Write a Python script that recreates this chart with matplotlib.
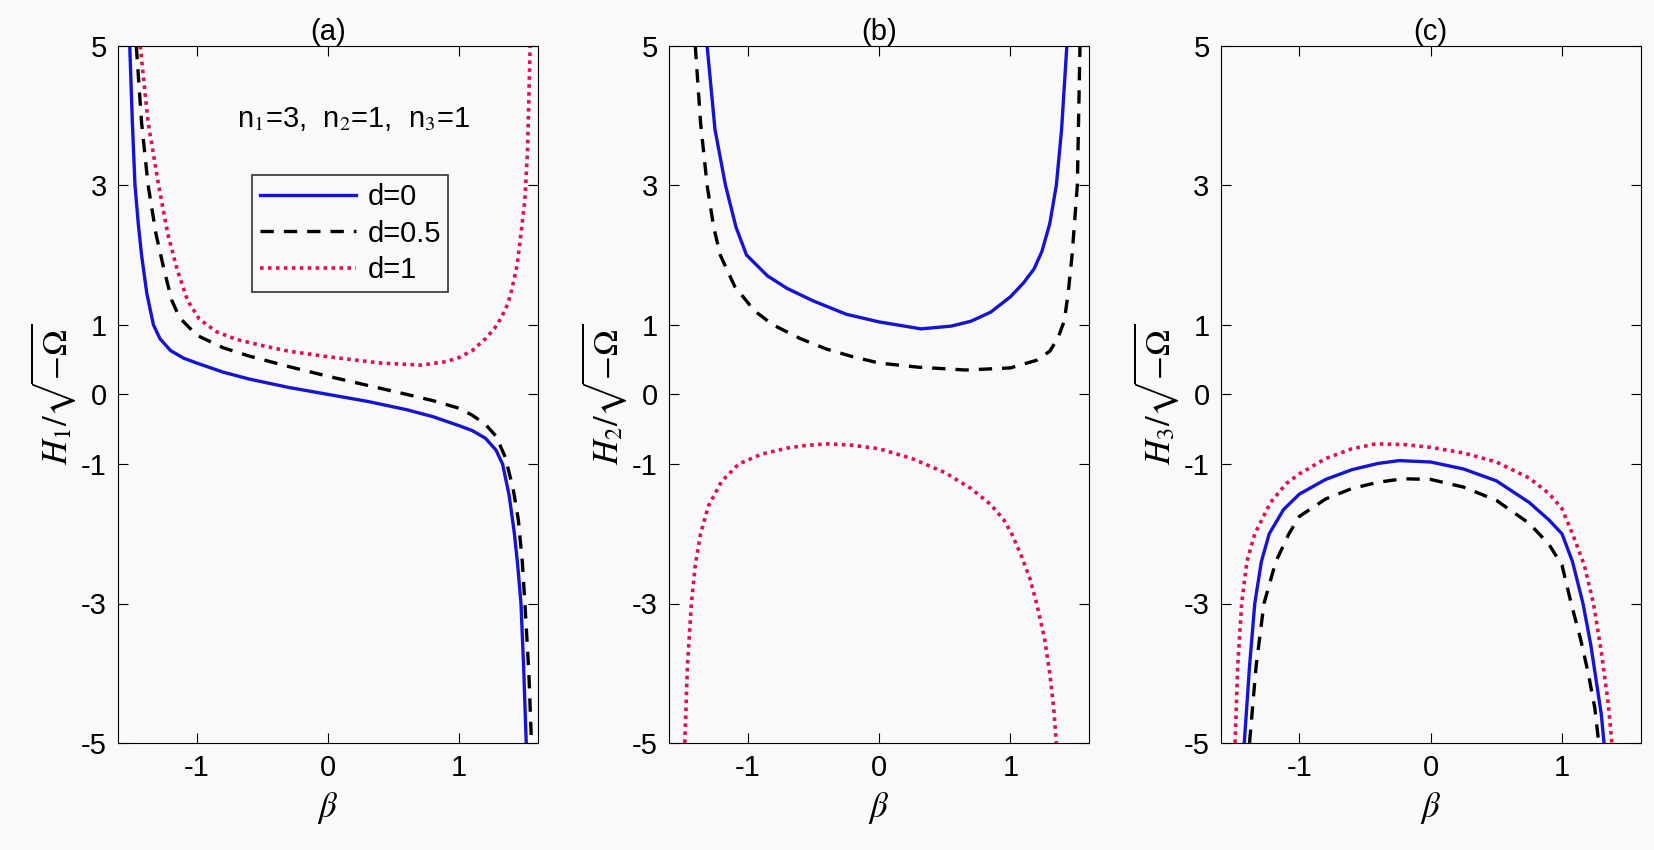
import numpy as np
import matplotlib
matplotlib.use("Agg")
from matplotlib import pyplot as plt

plt.rcParams['font.family'] = ['Liberation Sans', 'DejaVu Sans']
plt.rcParams['mathtext.fontset'] = 'stix'
plt.rcParams['axes.unicode_minus'] = False

# panel (a): H1
a_d0_x = [-1.51, -1.49, -1.47, -1.445, -1.42, -1.38, -1.33, -1.28, -1.2, -1.1, -1.0, -0.8, -0.6, -0.3, 0,
          0.3, 0.6, 0.8, 1.0, 1.1, 1.2, 1.28, 1.33, 1.38, 1.42, 1.445, 1.47, 1.49, 1.51]
a_d0_y = [5, 3.9, 3, 2.45, 2, 1.45, 1, 0.8, 0.63, 0.52, 0.45, 0.32, 0.22, 0.1, 0,
          -0.1, -0.22, -0.32, -0.45, -0.52, -0.63, -0.8, -1, -1.45, -2, -2.45, -3, -3.9, -5]
a_d05_x = [-1.46, -1.42, -1.37, -1.31, -1.25, -1.19, -1.13, -1.0, -0.8, -0.6, -0.3, 0, 0.3, 0.6, 0.8,
           1.0, 1.1, 1.2, 1.28, 1.35, 1.41, 1.45, 1.48, 1.5, 1.53, 1.55]
a_d05_y = [5, 3.9, 3, 2.3, 1.8, 1.35, 1.1, 0.85, 0.67, 0.55, 0.4, 0.26, 0.13, 0.0, -0.09,
           -0.2, -0.3, -0.43, -0.6, -0.9, -1.35, -1.8, -2.4, -3, -4, -5]
a_d1_x = [-1.43, -1.37, -1.29, -1.22, -1.15, -1.07, -0.98, -0.85, -0.7, -0.5, -0.3, 0, 0.4, 0.71,
          0.9, 1.0, 1.1, 1.2, 1.27, 1.32, 1.37, 1.40, 1.44, 1.47, 1.5, 1.52, 1.54]
a_d1_y = [5, 3.9, 3, 2.3, 1.8, 1.35, 1.08, 0.9, 0.79, 0.7, 0.62, 0.54, 0.45, 0.42,
          0.47, 0.53, 0.63, 0.8, 0.95, 1.1, 1.3, 1.5, 1.85, 2.3, 2.8, 3.5, 5]

# panel (b): H2
b_d0_x = [-1.31, -1.25, -1.17, -1.09, -1.01, -0.85, -0.7, -0.5, -0.25, 0, 0.32, 0.55, 0.7, 0.85, 1.0,
          1.1, 1.18, 1.24, 1.3, 1.35, 1.39, 1.43]
b_d0_y = [5, 3.8, 3, 2.4, 2, 1.7, 1.52, 1.34, 1.15, 1.04, 0.94, 0.98, 1.05, 1.18, 1.4,
          1.6, 1.8, 2.05, 2.45, 3, 3.8, 5]
b_d05_x = [-1.40, -1.36, -1.31, -1.26, -1.21, -1.1, -0.95, -0.81, -0.6, -0.4, -0.2, 0, 0.3, 0.66,
           1.0, 1.2, 1.3, 1.36, 1.41, 1.44, 1.47, 1.49, 1.51, 1.53]
b_d05_y = [5, 3.9, 3, 2.4, 2, 1.55, 1.2, 1.0, 0.8, 0.65, 0.54, 0.45, 0.39, 0.35,
           0.38, 0.49, 0.62, 0.8, 1.05, 1.45, 2, 2.5, 3, 5]
b_d1_x = [-1.48, -1.46, -1.43, -1.4, -1.36, -1.3, -1.2, -1.07, -0.9, -0.7, -0.55, -0.39, -0.2, 0,
          0.25, 0.5, 0.7, 0.85, 0.95, 1.01, 1.08, 1.15, 1.2, 1.26, 1.3, 1.33, 1.35]
b_d1_y = [-5, -3.9, -3, -2.45, -2, -1.6, -1.25, -1.0, -0.86, -0.77, -0.73, -0.71, -0.73, -0.78,
          -0.92, -1.12, -1.35, -1.58, -1.8, -2, -2.3, -2.65, -3, -3.5, -4, -4.5, -5]

# panel (c): H3
c_d0_x = [-1.42, -1.38, -1.34, -1.29, -1.23, -1.12, -1.0, -0.8, -0.6, -0.4, -0.24, 0, 0.25, 0.5,
          0.75, 0.9, 1.0, 1.08, 1.16, 1.22, 1.26, 1.3, 1.32]
c_d0_y = [-5, -3.9, -3, -2.4, -2, -1.65, -1.43, -1.22, -1.08, -0.99, -0.95, -0.97, -1.07, -1.24,
          -1.55, -1.8, -2.0, -2.4, -3, -3.6, -4.1, -4.6, -5]
c_d05_x = [-1.38, -1.33, -1.27, -1.18, -1.08, -1.0, -0.8, -0.6, -0.4, -0.21, 0, 0.25, 0.5, 0.75,
           0.9, 1.0, 1.07, 1.14, 1.2, 1.25, 1.28]
c_d05_y = [-5, -3.9, -3, -2.4, -2, -1.75, -1.5, -1.35, -1.26, -1.21, -1.22, -1.33, -1.52, -1.85,
           -2.15, -2.45, -3, -3.5, -4, -4.5, -5]
c_d1_x = [-1.49, -1.47, -1.44, -1.4, -1.34, -1.22, -1.1, -1.0, -0.8, -0.6, -0.42, -0.2, 0, 0.25,
          0.5, 0.75, 0.9, 1.0, 1.08, 1.17, 1.24, 1.3, 1.35, 1.38]
c_d1_y = [-5, -3.9, -3, -2.4, -2, -1.55, -1.28, -1.14, -0.92, -0.78, -0.71, -0.72, -0.76, -0.84,
          -0.97, -1.2, -1.42, -1.64, -2, -2.45, -3, -3.7, -4.4, -5]

labels = ['d=0', 'd=0.5', 'd=1']
titles = ['(a)', '(b)', '(c)']
ylabels = [r'$H_1/\sqrt{-\Omega}$', r'$H_2/\sqrt{-\Omega}$', r'$H_3/\sqrt{-\Omega}$']
yticks = [-5, -3, -1, 0, 1, 3, 5]
xticks = [-1, 0, 1]

panels = [
    [(a_d0_x, a_d0_y), (a_d05_x, a_d05_y), (a_d1_x, a_d1_y)],
    [(b_d0_x, b_d0_y), (b_d05_x, b_d05_y), (b_d1_x, b_d1_y)],
    [(c_d0_x, c_d0_y), (c_d05_x, c_d05_y), (c_d1_x, c_d1_y)],
]
styles = [dict(color='#1414d2', ls='-', lw=2.4),
          dict(color='black', ls=(0, (4, 3)), lw=2.4),
          dict(color='#e0104a', ls=(0, (1, 1.2)), lw=2.6)]

fig = plt.figure(figsize=(16.54, 8.5), dpi=100)
fig.patch.set_facecolor('#f9f9f9')
lefts = [0.0713, 0.4045, 0.738]
for k in range(3):
    ax = fig.add_axes([lefts[k], 0.126, 0.254, 0.82])
    ax.set_facecolor('#f9f9f9')
    for (x, y), st, lab in zip(panels[k], styles, labels):
        ax.plot(x, y, label=lab, **st)
    ax.set_xlim(-1.6, 1.6)
    ax.set_ylim(-5, 5)
    ax.set_xticks(xticks)
    ax.set_yticks(yticks)
    ax.tick_params(direction='in', top=True, right=True, labelsize=21, length=7, pad=8)
    ax.set_title(titles[k], fontsize=21, pad=4)
    ax.set_xlabel(r'$\beta$', fontsize=25, labelpad=6)
    ax.set_ylabel(ylabels[k], fontsize=25, labelpad=2)
    if k == 0:
        ax.text(0.56, 0.895, 'n$_1$=3,  n$_2$=1,  n$_3$=1', transform=ax.transAxes,
                ha='center', va='center', fontsize=21)
        leg = ax.legend(loc='upper left', bbox_to_anchor=(0.285, 0.835), fontsize=21,
                        frameon=True, fancybox=False, edgecolor='black',
                        handlelength=3.3, borderpad=0.25, labelspacing=0.3, handletextpad=0.4)
        leg.get_frame().set_linewidth(1.2)
        leg.get_frame().set_facecolor('#f9f9f9')

fig.savefig('out.png', dpi=100, facecolor=fig.get_facecolor())
